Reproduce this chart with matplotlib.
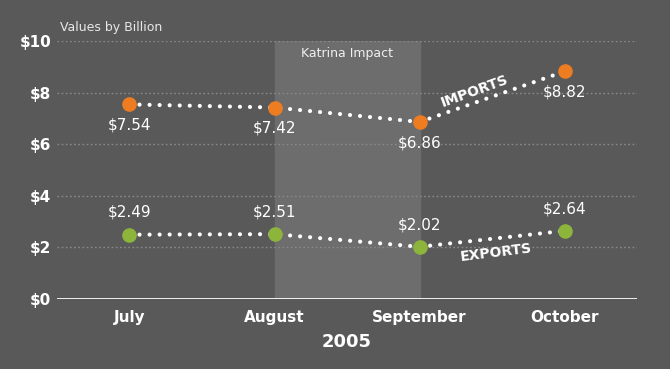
import matplotlib
matplotlib.use("Agg")
import matplotlib.pyplot as plt

months = ["July", "August", "September", "October"]
imports = [7.54, 7.42, 6.86, 8.82]
exports = [2.49, 2.51, 2.02, 2.64]
yticks = [0, 2, 4, 6, 8, 10]
ytick_labels = ["$0", "$2", "$4", "$6", "$8", "$10"]

BG = "#595959"
SHADE = "#6d6d6d"
ORANGE = "#EE7D22"
GREEN = "#8DB53C"

plt.rcParams['font.family'] = ['DejaVu Sans']
fig = plt.figure(figsize=(6.7, 3.69), dpi=100, facecolor=BG)
ax = fig.add_axes([0.085, 0.19, 0.866, 0.699], facecolor=BG)

x = list(range(len(months)))
ax.set_xlim(-0.5, len(months) - 0.5)
ax.set_ylim(0, 10)

ax.axvspan(1, 2, ymin=0, ymax=1, color=SHADE, zorder=0)

for yv in yticks[1:]:
    ax.axhline(yv, color="#8a8a8a", lw=1.0, ls=(0, (1.2, 1.8)), zorder=1)
ax.axhline(0, color="white", lw=2, zorder=3, xmin=0, xmax=1)

for vals, col in ((imports, ORANGE), (exports, GREEN)):
    ax.plot(x, vals, color="white", lw=3.0, ls=(0, (0.01, 2.4)),
            dash_capstyle='round', zorder=4)
    ax.plot(x, vals, ls="none", marker="o", ms=9.5, color=col,
            mec=col, zorder=5)

for xi, v in zip(x, imports):
    ax.annotate(f"${v:.2f}", (xi, v), xytext=(0, -15), textcoords="offset points",
                ha="center", va="center", color="white", fontsize=11)
for xi, v in zip(x, exports):
    ax.annotate(f"${v:.2f}", (xi, v), xytext=(0, 16), textcoords="offset points",
                ha="center", va="center", color="white", fontsize=11)

ax.text(2.38, 8.05, "IMPORTS", rotation=20, ha="center", va="center",
        color="white", fontsize=10, fontweight="bold")
ax.text(2.53, 1.8, "EXPORTS", rotation=7, ha="center", va="center",
        color="white", fontsize=10, fontweight="bold")
ax.text(1.5, 9.5, "Katrina Impact", ha="center", va="center",
        color="#f0f0f0", fontsize=9)

ax.set_xticks(x)
ax.set_xticklabels(months, fontsize=11, fontweight="bold", color="white")
ax.set_yticks(yticks)
ax.set_yticklabels(ytick_labels, fontsize=11, fontweight="bold", color="white")
ax.tick_params(length=0, pad=8)
ax.tick_params(axis="y", pad=4)
for s in ax.spines.values():
    s.set_visible(False)

ax.set_xlabel("2005", fontsize=13, fontweight="bold", color="white", labelpad=6)
fig.text(0.09, 0.925, "Values by Billion", fontsize=9, color="#e8e8e8",
         ha="left", va="center")

fig.savefig("out.png", dpi=100, facecolor=BG)
